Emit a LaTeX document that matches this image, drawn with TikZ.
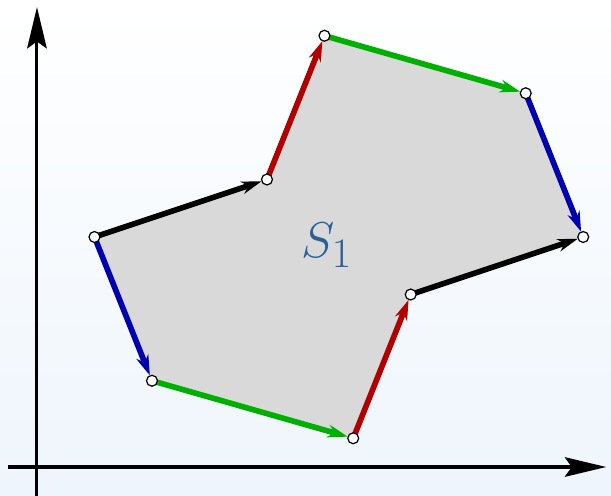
\documentclass[tikz,border=0pt]{standalone}
\usepackage{amsmath,amssymb}
\usepackage{tikz}
\usetikzlibrary{arrows.meta}
\usepackage{xcolor}
\definecolor{BgBlue}{HTML}{EEF5FC}
\definecolor{EdgeRed}{HTML}{B00000}
\definecolor{EdgeGreen}{HTML}{00B000}
\definecolor{EdgeBlue}{HTML}{0000B0}
\definecolor{LabelBlue}{HTML}{2B5F97}
\definecolor{FaceGray}{HTML}{D9D9D9}

\begin{document}
\begin{tikzpicture}[x=1cm,y=1cm,>={Stealth[length=0.35cm,width=0.22cm,inset=0.11cm]},
  edge/.style={line width=2.8pt,->,shorten >=0.1cm},
  axis/.style={line width=1.5pt,-{Stealth[length=0.72cm,width=0.34cm,inset=0.12cm]}},
  vtx/.style={circle,draw=black,fill=white,line width=0.6pt,inner sep=0pt,minimum size=0.19cm}]
  \shade[top color=white,bottom color=BgBlue] (-0.643,-0.487) rectangle (9.983,8.122);
  \useasboundingbox (-0.643,-0.487) rectangle (9.983,8.122);
  % axes
  \coordinate (xs) at (-0.5,0);
  \coordinate (xe) at (9.9,0);
  \coordinate (ys) at (0,-0.5);
  \coordinate (ye) at (0,8.0);
  \draw[axis] (xs) -- (xe);
  \draw[axis] (ys) -- (ye);
  % vertices
  \coordinate (a) at (1,4);
  \coordinate (b) at (4,5);
  \coordinate (c) at (5,7.5);
  \coordinate (d) at (8.5,6.5);
  \coordinate (e) at (9.5,4);
  \coordinate (f) at (6.5,3);
  \coordinate (g) at (5.5,0.5);
  \coordinate (h) at (2,1.5);
  \fill[FaceGray] (a) -- (b) -- (c) -- (d) -- (e) -- (f) -- (g) -- (h) -- cycle;
  \node[text=LabelBlue,font=\fontsize{31}{33}\selectfont] (s1) at (5.04,3.86) {$S_1$};
  % edges
  \draw[edge,black] (a) -- (b);
  \draw[edge,EdgeRed] (b) -- (c);
  \draw[edge,EdgeGreen] (c) -- (d);
  \draw[edge,EdgeBlue] (d) -- (e);
  \draw[edge,black] (f) -- (e);
  \draw[edge,EdgeRed] (g) -- (f);
  \draw[edge,EdgeGreen] (h) -- (g);
  \draw[edge,EdgeBlue] (a) -- (h);
  \foreach \v in {a,b,c,d,e,f,g,h}
    \node[vtx] (v\v) at (\v) {};
\end{tikzpicture}
\end{document}
